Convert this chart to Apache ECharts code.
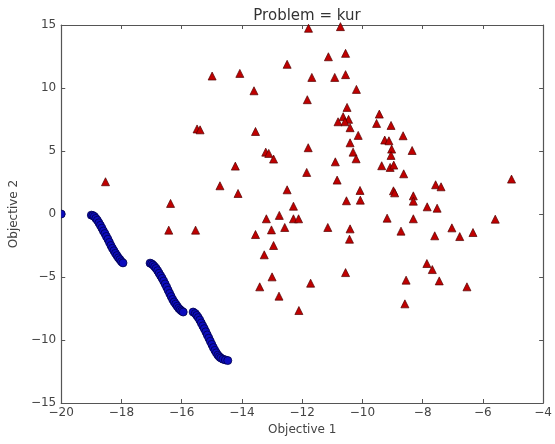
<!DOCTYPE html>
<html>
<head>
<meta charset="utf-8">
<script src="https://cdn.jsdelivr.net/npm/echarts@6/dist/echarts.min.js"></script>
<style>html,body{margin:0;padding:0;background:#fff;}#c{width:555px;height:444px;}</style>
</head>
<body>
<div id="c"></div>
<script>
const chartTitle = 'Problem = kur';
const xName = 'Objective 1';
const yName = 'Objective 2';
const xTicks = [-20, -18, -16, -14, -12, -10, -8, -6, -4];
const yTicks = [-15, -10, -5, 0, 5, 10, 15];

// blue circles: non-dominated front
const frontIsolated = [[-20.0, 0.0]];
const frontSeg1 = [[-19.00,-0.09],[-18.95,-0.12],[-18.90,-0.20],[-18.85,-0.35],[-18.80,-0.50],[-18.75,-0.70],[-18.70,-0.90],[-18.65,-1.12],[-18.60,-1.35],[-18.55,-1.55],[-18.50,-1.78],[-18.45,-2.00],[-18.40,-2.25],[-18.35,-2.50],[-18.30,-2.72],[-18.25,-2.92],[-18.20,-3.12],[-18.15,-3.30],[-18.10,-3.48],[-18.05,-3.62],[-18.00,-3.78],[-17.95,-3.88]];
const frontSeg2 = [[-17.05,-3.90],[-17.00,-3.95],[-16.95,-4.05],[-16.90,-4.18],[-16.85,-4.32],[-16.80,-4.50],[-16.75,-4.70],[-16.70,-4.90],[-16.65,-5.10],[-16.60,-5.32],[-16.55,-5.55],[-16.50,-5.80],[-16.45,-6.05],[-16.40,-6.30],[-16.35,-6.55],[-16.30,-6.78],[-16.25,-6.98],[-16.20,-7.15],[-16.15,-7.32],[-16.10,-7.48],[-16.05,-7.60],[-16.00,-7.70],[-15.95,-7.78]];
const frontSeg3 = [[-15.62,-7.78],[-15.55,-7.90],[-15.50,-8.05],[-15.45,-8.22],[-15.40,-8.42],[-15.35,-8.65],[-15.30,-8.88],[-15.25,-9.10],[-15.20,-9.35],[-15.15,-9.60],[-15.10,-9.85],[-15.05,-10.10],[-15.00,-10.35],[-14.95,-10.60],[-14.90,-10.82],[-14.85,-11.02],[-14.80,-11.20],[-14.75,-11.33],[-14.70,-11.43],[-14.63,-11.52],[-14.55,-11.58],[-14.47,-11.63]];

// red triangles: population
const population = [
[-11.79,14.74],[-10.73,14.87],[-11.13,12.48],[-10.56,12.75],[-12.50,11.88],[-14.99,10.95],[-14.07,11.16],[-11.68,10.84],[-10.92,10.84],[-10.56,11.06],
[-13.60,9.78],[-10.20,9.89],[-11.83,9.07],[-10.51,8.46],[-9.44,7.93],[-10.64,7.72],[-10.46,7.51],[-10.81,7.32],[-10.58,7.32],[-9.53,7.19],
[-9.05,7.03],[-15.49,6.75],[-15.39,6.68],[-13.55,6.55],[-10.41,6.85],[-8.65,6.21],[-10.14,6.24],[-9.26,5.87],[-9.12,5.81],[-10.41,5.65],
[-11.80,5.26],[-13.21,4.91],[-13.11,4.81],[-12.95,4.36],[-8.35,5.04],[-9.03,5.15],[-9.05,4.65],[-10.31,4.91],[-10.21,4.38],[-10.90,4.14],
[-14.22,3.80],[-9.36,3.83],[-9.08,3.70],[-8.96,3.88],[-11.85,3.30],[-8.63,3.19],[-18.53,2.56],[-10.84,2.69],[-14.73,2.24],[-7.57,2.32],
[-7.39,2.16],[-5.05,2.77],[-12.50,1.92],[-10.08,1.87],[-8.97,1.84],[-8.93,1.68],[-14.13,1.63],[-8.31,1.44],[-8.31,1.02],[-10.07,1.10],
[-10.53,1.05],[-16.37,0.84],[-12.29,0.62],[-7.85,0.57],[-7.52,0.46],[-12.76,-0.11],[-13.19,-0.38],[-12.29,-0.38],[-12.12,-0.38],[-9.18,-0.33],
[-8.31,-0.38],[-5.59,-0.41],[-16.43,-1.28],[-15.54,-1.28],[-12.58,-1.07],[-13.02,-1.26],[-11.15,-1.07],[-10.41,-1.18],[-7.03,-1.10],[-8.72,-1.36],
[-6.33,-1.47],[-13.55,-1.63],[-7.60,-1.73],[-6.77,-1.79],[-10.43,-2.00],[-12.95,-2.50],[-13.26,-3.24],[-7.86,-3.93],[-7.68,-4.41],[-10.56,-4.65],
[-13.00,-4.99],[-8.55,-5.25],[-7.45,-5.31],[-11.72,-5.49],[-13.41,-5.78],[-6.53,-5.78],[-12.77,-6.52],[-8.59,-7.13],[-12.11,-7.66]
];

const fmt = v => (v < 0 ? '\u2212' + Math.abs(v) : String(v));
const axisCol = '#555';
const txtCol = '#444';
const FONT = 'DejaVu Sans';

function mkX(pos, show) {
  return {
    type: 'value', position: pos, min: xTicks[0], max: xTicks[xTicks.length-1], interval: 2,
    name: show ? xName : '', nameLocation: 'middle', nameGap: 20,
    nameTextStyle: {color: txtCol, fontSize: 12, fontFamily: FONT},
    axisLine: {show: true, onZero: false, lineStyle: {color: axisCol, width: 1.2}},
    axisTick: {show: true, inside: true, length: 4, lineStyle: {color: axisCol}},
    axisLabel: {show: show, color: txtCol, fontSize: 12, fontFamily: FONT, margin: 4, formatter: fmt},
    splitLine: {show: false}
  };
}
function mkY(pos, show) {
  return {
    type: 'value', position: pos, min: yTicks[0], max: yTicks[yTicks.length-1], interval: 5,
    name: show ? yName : '', nameLocation: 'middle', nameGap: 38, nameRotate: 90,
    nameTextStyle: {color: txtCol, fontSize: 12, fontFamily: FONT},
    axisLine: {show: true, onZero: false, lineStyle: {color: axisCol, width: 1.2}},
    axisTick: {show: true, inside: true, length: 4, lineStyle: {color: axisCol}},
    axisLabel: {show: show, color: txtCol, fontSize: 12, fontFamily: FONT, margin: 5, formatter: fmt},
    splitLine: {show: false}
  };
}

const blueFill = '#0c0cbe';
const blueEdge = '#00004a';
const blueStyle = {color: blueFill, borderColor: blueEdge, borderWidth: 0.8, opacity: 1};
const blueSeries = [frontSeg1, frontSeg2, frontSeg3].map(d => ({
  type: 'scatter', data: d, symbol: 'circle', symbolSize: 8, itemStyle: blueStyle, clip: true, z: 3
}));
// isolated point on the left spine, clipped by the plot area like the reference
blueSeries.push({
  type: 'custom', data: frontIsolated, clip: true, z: 3,
  renderItem: function (params, api) {
    const p = api.coord([api.value(0), api.value(1)]);
    const cs = params.coordSys;
    return {
      type: 'circle', shape: {cx: p[0], cy: p[1], r: 4},
      style: {fill: blueFill, stroke: blueEdge, lineWidth: 0.8},
      clipPath: {type: 'rect', shape: {x: cs.x, y: cs.y, width: cs.width, height: cs.height}}
    };
  }
});

const chart = echarts.init(document.getElementById('c'), null, {renderer: 'canvas'});
chart.setOption({
  backgroundColor: '#fff',
  animation: false,
  title: {text: chartTitle, left: 302, top: 4, textAlign: 'center',
    textStyle: {color: '#333', fontSize: 15, fontWeight: 'normal', fontFamily: FONT}},
  grid: {left: 59, right: 10, top: 25, bottom: 41, containLabel: false},
  xAxis: [mkX('bottom', true), mkX('top', false)],
  yAxis: [mkY('left', true), mkY('right', false)],
  series: [
    {type: 'scatter', data: population, symbol: 'triangle', symbolSize: 8,
     itemStyle: {color: '#c00000', borderColor: '#500000', borderWidth: 0.7, opacity: 1}, clip: true, z: 2}
  ].concat(blueSeries)
});
</script>
</body>
</html>
